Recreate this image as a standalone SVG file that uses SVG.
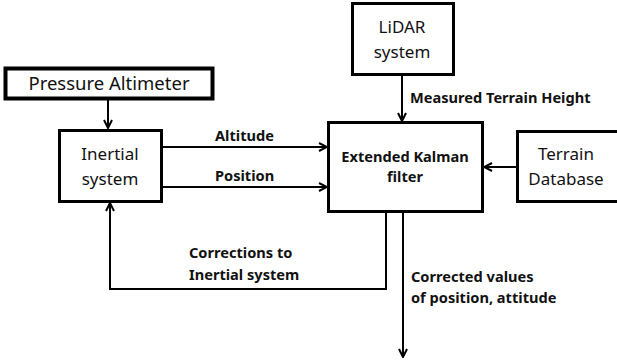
<svg xmlns="http://www.w3.org/2000/svg" width="617" height="363" viewBox="0 0 617 363">
<defs>
<marker id="arr" viewBox="0 0 10 10" refX="9" refY="5" markerWidth="10" markerHeight="10" markerUnits="userSpaceOnUse" orient="auto">
<path d="M1,1 L9,5 L1,9" fill="none" stroke="#000" stroke-width="2"/>
</marker>
<style>
.box{fill:#fff;stroke:#000;stroke-width:3}
.t{font-family:"Noto Sans","Open Sans",sans-serif;font-size:17px;fill:#111;text-anchor:middle}
.b{font-family:"Noto Sans","Open Sans",sans-serif;font-size:14.6px;font-weight:bold;fill:#111}
.c{fill:none;stroke:#000;stroke-width:2}
</style>
</defs>
<rect width="617" height="363" fill="#fff"/>
<g id="connectors">
<path class="c" d="M108,99 V128" marker-end="url(#arr)"/>
<path class="c" d="M162,147 H327" marker-end="url(#arr)"/>
<path class="c" d="M162,187 H327" marker-end="url(#arr)"/>
<path class="c" d="M402,75 V121" marker-end="url(#arr)"/>
<path class="c" d="M517,167 H484" marker-end="url(#arr)"/>
<path class="c" d="M386,212 V289 H110 V203" marker-end="url(#arr)"/>
<path class="c" d="M403,212 V357" marker-end="url(#arr)"/>
<text class="b" x="215" y="141">Altitude</text>
<text class="b" x="215" y="181">Position</text>
<text class="b" x="410" y="103">Measured Terrain Height</text>
<text class="b" x="189" y="258">Corrections to</text>
<text class="b" x="189" y="280">Inertial system</text>
<text class="b" x="411" y="282">Corrected values</text>
<text class="b" x="411" y="303">of position, attitude</text>
</g>
<g id="pressure-altimeter">
<rect class="box" x="5.5" y="68.5" width="207" height="30" style="stroke-width:4"/>
<text class="t" x="109" y="90" style="font-size:18.5px">Pressure Altimeter</text>
</g>
<g id="inertial-system">
<rect class="box" x="59.5" y="130.5" width="102" height="71"/>
<text class="t" x="110" y="160">Inertial</text>
<text class="t" x="110" y="185">system</text>
</g>
<g id="lidar">
<rect class="box" x="352.5" y="3.5" width="101" height="71"/>
<text class="t" x="402" y="33">LiDAR</text>
<text class="t" x="402" y="58">system</text>
</g>
<g id="ekf">
<rect class="box" x="328.5" y="122.5" width="154" height="89"/>
<text class="t" x="405" y="162" style="font-size:14.6px;font-weight:bold">Extended Kalman</text>
<text class="t" x="405" y="182" style="font-size:14.6px;font-weight:bold">filter</text>
</g>
<g id="terrain-database">
<rect class="box" x="517.5" y="131.5" width="110" height="70"/>
<text class="t" x="566" y="160">Terrain</text>
<text class="t" x="566" y="185">Database</text>
</g>
</svg>
